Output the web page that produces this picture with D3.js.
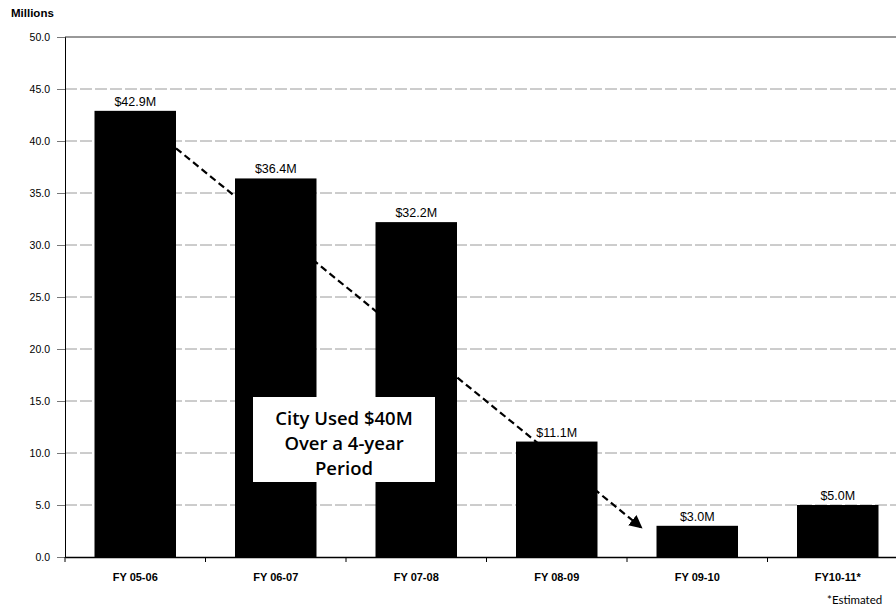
<!DOCTYPE html>
<html>
<head>
<meta charset="utf-8">
<script src="https://cdn.jsdelivr.net/npm/d3@7"></script>
<style>
  body { margin: 0; background: #fff; }
  svg { display: block; }
</style>
</head>
<body>
<script>
// Chart data
var categories = ["FY 05-06", "FY 06-07", "FY 07-08", "FY 08-09", "FY 09-10", "FY10-11*"];
var values = [42.9, 36.4, 32.2, 11.1, 3.0, 5.0];
var valueLabels = ["$42.9M", "$36.4M", "$32.2M", "$11.1M", "$3.0M", "$5.0M"];
var yTicks = [0, 5, 10, 15, 20, 25, 30, 35, 40, 45, 50];
// dashed trend arrow, start / end in data units
var trendStart = { cat: 0, value: 39.3 };
var trendEnd = { cat: 4, value: 2.9 };
var calloutLines = ["City Used $40M", "Over a 4-year", "Period"];

var svgWidth = 896;
var svgHeight = 613;
var margin = { top: 37, left: 65 };
var plotWidth = 843;   // runs past the right edge, as in the scan
var plotHeight = 520;

var svg = d3.select("body")
            .append("svg")
            .attr("width", svgWidth)
            .attr("height", svgHeight);

var chartGroup = svg.append("g")
                    .attr("transform", `translate(${margin.left}, ${margin.top})`);

// scales
var xScale = d3.scaleBand()
               .domain(categories)
               .range([0, plotWidth])
               .paddingInner(0.42)
               .paddingOuter(0.21);

var yScale = d3.scaleLinear().domain([0, 50]).range([plotHeight, 0]);

// gridlines
chartGroup.append("g")
          .selectAll("line")
          .data(yTicks.filter(d => d > 0 && d < 50))
          .enter()
          .append("line")
          .attr("x1", 0)
          .attr("x2", plotWidth)
          .attr("y1", d => yScale(d))
          .attr("y2", d => yScale(d))
          .attr("stroke", "#9a9a9a")
          .attr("stroke-width", 1)
          .attr("stroke-dasharray", "12,3");

// top frame line
chartGroup.append("line")
          .attr("x1", 0).attr("x2", plotWidth)
          .attr("y1", 0).attr("y2", 0)
          .attr("stroke", "#333").attr("stroke-width", 1);

// trend arrow (drawn behind the bars)
svg.append("defs").append("marker")
   .attr("id", "arrow")
   .attr("viewBox", "0 0 10 10")
   .attr("refX", 8).attr("refY", 5)
   .attr("markerWidth", 6).attr("markerHeight", 6)
   .attr("orient", "auto")
   .append("path")
   .attr("d", "M0,0 L10,5 L0,10 z")
   .attr("fill", "#000");

chartGroup.append("line")
          .attr("x1", xScale(categories[trendStart.cat]) + xScale.bandwidth())
          .attr("y1", yScale(trendStart.value))
          .attr("x2", xScale(categories[trendEnd.cat]) - 16)
          .attr("y2", yScale(trendEnd.value))
          .attr("stroke", "#000")
          .attr("stroke-width", 2.2)
          .attr("stroke-dasharray", "7,4")
          .attr("marker-end", "url(#arrow)");

// bars
chartGroup.selectAll("rect.bar")
          .data(values)
          .enter()
          .append("rect")
          .attr("class", "bar")
          .attr("x", (d, i) => xScale(categories[i]))
          .attr("y", d => yScale(d))
          .attr("width", xScale.bandwidth())
          .attr("height", d => plotHeight - yScale(d))
          .attr("fill", "#000");

// value labels
chartGroup.selectAll("text.val")
          .data(values)
          .enter()
          .append("text")
          .attr("class", "val")
          .attr("x", (d, i) => xScale(categories[i]) + xScale.bandwidth() / 2)
          .attr("y", d => yScale(d) - 5)
          .attr("text-anchor", "middle")
          .attr("font-family", "Liberation Sans, Arial, sans-serif")
          .attr("font-size", "12.5px")
          .text((d, i) => valueLabels[i]);

// y axis
var leftAxis = d3.axisLeft(yScale)
                 .tickValues(yTicks)
                 .tickFormat(d3.format(".1f"))
                 .tickSize(8)
                 .tickPadding(7);

var yAxisG = chartGroup.append("g").call(leftAxis);
yAxisG.select(".domain").attr("stroke", "#000");
yAxisG.selectAll(".tick line").attr("stroke", "#777");
yAxisG.selectAll("text")
      .attr("font-family", "Liberation Sans, Arial, sans-serif")
      .attr("font-size", "10.5px")
      .attr("fill", "#000");

// x axis
var bottomAxis = d3.axisBottom(xScale).tickSize(0).tickPadding(16);
var xAxisG = chartGroup.append("g")
                       .attr("transform", `translate(0, ${plotHeight})`)
                       .call(bottomAxis);
xAxisG.select(".domain").attr("stroke", "#000").attr("stroke-width", 1.5);
xAxisG.selectAll("text")
      .attr("font-family", "Liberation Sans, Arial, sans-serif")
      .attr("font-size", "11px")
      .attr("font-weight", "bold")
      .attr("fill", "#000");

// separator ticks between categories
xAxisG.selectAll("line.sep")
      .data(d3.range(categories.length + 1))
      .enter()
      .append("line")
      .attr("class", "sep")
      .attr("x1", i => i * xScale.step())
      .attr("x2", i => i * xScale.step())
      .attr("y1", 0).attr("y2", 5)
      .attr("stroke", "#000");

// callout box
var boxX = 253 - margin.left, boxY = 397 - margin.top;
var callout = chartGroup.append("g");
callout.append("rect")
       .attr("x", boxX).attr("y", boxY)
       .attr("width", 182).attr("height", 85)
       .attr("fill", "#fff");
callout.selectAll("text")
       .data(calloutLines)
       .enter()
       .append("text")
       .attr("x", boxX + 91)
       .attr("y", (d, i) => boxY + 28 + i * 25)
       .attr("text-anchor", "middle")
       .attr("font-family", "Open Sans, Lato, sans-serif")
       .attr("font-size", "18.5px")
       .attr("font-weight", "600")
       .text(d => d);

// titles
svg.append("text")
   .attr("x", 11).attr("y", 17)
   .attr("font-family", "Liberation Sans, Arial, sans-serif")
   .attr("font-size", "11.5px")
   .attr("font-weight", "900")
   .text("Millions");

svg.append("text")
   .attr("x", 827).attr("y", 604)
   .attr("font-family", "Lato, Open Sans, sans-serif")
   .attr("font-size", "11.5px")
   .text("*Estimated");
</script>
</body>
</html>
